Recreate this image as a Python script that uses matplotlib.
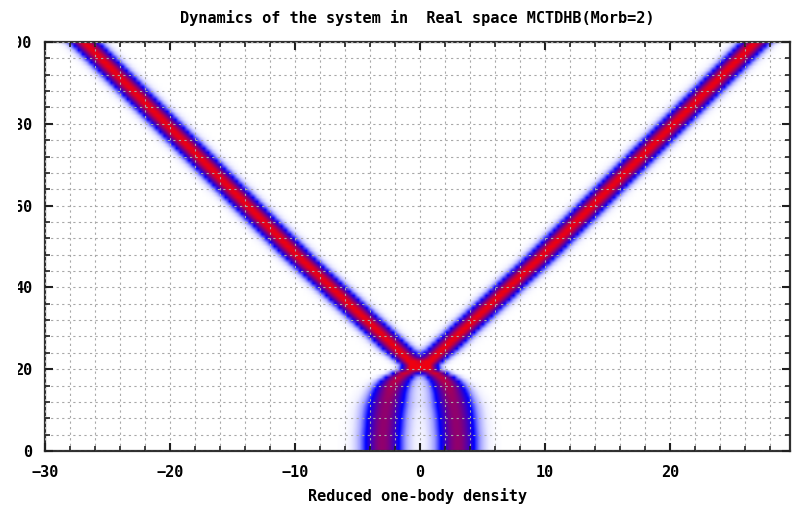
import numpy as np
import matplotlib
matplotlib.use("Agg")
import matplotlib.pyplot as plt
from matplotlib.colors import LinearSegmentedColormap
from matplotlib.patches import Rectangle
from matplotlib.ticker import MultipleLocator

# ---- data ----
# time samples (vertical axis), one per unit
time_samples = np.arange(0, 101, 1)
# centre of the right-hand density branch (the left branch is its mirror image)
branch_center = [
    3.00, 3.00, 3.00, 3.00, 2.98, 2.95, 2.92, 2.90, 2.87, 2.83,   # 0-9
    2.78, 2.72, 2.65, 2.57, 2.48, 2.37, 2.22, 2.02, 1.70, 1.22,   # 10-19
    0.60, 0.55, 0.85, 1.18, 1.52, 1.86, 2.20, 2.55, 2.90, 3.25,   # 20-29
    3.60, 3.95, 4.30, 4.65, 5.00, 5.35, 5.70, 6.05, 6.40, 6.75,   # 30-39
    7.10, 7.45, 7.80, 8.15, 8.50, 8.85, 9.20, 9.55, 9.90, 10.22,  # 40-49
    10.55, 10.88, 11.20, 11.53, 11.86, 12.18, 12.51, 12.84, 13.16, 13.49,  # 50-59
    13.82, 14.14, 14.47, 14.80, 15.12, 15.45, 15.78, 16.10, 16.43, 16.76,  # 60-69
    17.08, 17.41, 17.74, 18.06, 18.39, 18.72, 19.04, 19.37, 19.70, 20.02,  # 70-79
    20.35, 20.68, 21.00, 21.33, 21.66, 21.98, 22.31, 22.64, 22.96, 23.29,  # 80-89
    23.62, 23.94, 24.27, 24.60, 24.92, 25.25, 25.58, 25.90, 26.23, 26.56,  # 90-99
    26.90,                                                          # 100
]
# width (sigma) of each branch
branch_width = ([1.1] * 12
                + [1.07, 1.04, 1.0, 0.96, 0.91, 0.85, 0.78, 0.7, 0.64, 0.64, 0.68, 0.72, 0.76]
                + [0.78] * 76)
# peak density of each branch
branch_peak = ([0.75] * 12
               + [0.76, 0.77, 0.78, 0.8, 0.82, 0.85, 0.88, 0.92, 0.95, 0.97, 1.0, 1.0, 1.0]
               + [1.0] * 76)

x_min, x_max = -30.0, 29.6
x_grid = np.linspace(x_min, x_max, 700)

xticks_major = [-30, -20, -10, 0, 10, 20]
yticks_major = [0, 20, 40, 60, 80, 100]

title = "Dynamics of the system in  Real space MCTDHB(Morb=2)"
xlabel = "Reduced one-body density"

# ---- build density field ----
rows = []
for c, w, p in zip(branch_center, branch_width, branch_peak):
    row = p * np.exp(-(x_grid - c) ** 2 / (2 * w ** 2)) + \
          p * np.exp(-(x_grid + c) ** 2 / (2 * w ** 2))
    rows.append(row)
density = np.clip(np.array(rows), 0, 1)

cmap = LinearSegmentedColormap.from_list(
    "wbr", [(0.0, "#ffffff"), (0.05, "#eeeeff"), (0.18, "#a0a0ff"),
            (0.36, "#0000ff"), (1.0, "#ee0010")])

font = dict(family="DejaVu Sans Mono", weight="bold", size=11)

fig = plt.figure(figsize=(7.96, 5.08), dpi=100)
ax = fig.add_axes([45 / 796, (508 - 451) / 508, (790 - 45) / 796, (451 - 42) / 508])

ax.imshow(density, extent=[x_min, x_max, time_samples[0] - 0.5, time_samples[-1] + 0.5],
          origin="lower", aspect="auto", cmap=cmap, vmin=0, vmax=1,
          interpolation="bilinear", zorder=0)

ax.set_xlim(x_min, x_max)
ax.set_ylim(0, 100)
ax.set_xticks(xticks_major)
ax.set_yticks(yticks_major)
ax.xaxis.set_minor_locator(MultipleLocator(2))
ax.yaxis.set_minor_locator(MultipleLocator(4))

ax.set_axisbelow(False)
ax.grid(which="both", color="#a8a8a8", linestyle=(0, (2, 3)), linewidth=0.8)

ax.tick_params(which="both", direction="in", top=True, right=True, color="#202020")
ax.tick_params(which="major", length=6, width=1.5)
ax.tick_params(which="minor", length=3.5, width=1.2)
ax.tick_params(axis="x", which="major", pad=10)
ax.tick_params(axis="y", which="major", pad=9)

for lab in ax.get_xticklabels() + ax.get_yticklabels():
    lab.set_fontfamily(font["family"])
    lab.set_fontweight(font["weight"])
    lab.set_fontsize(font["size"])

for s in ax.spines.values():
    s.set_color("#303030")
    s.set_linewidth(1.6)

ax.set_title(title, fontdict=font, pad=14)
ax.set_xlabel(xlabel, fontdict=font, labelpad=6)

# the reference crops the leftmost part of the vertical tick labels
fig.patches.append(Rectangle((0, 0), 17.5 / 796, 1, transform=fig.transFigure,
                             facecolor="white", edgecolor="none", zorder=10))

fig.savefig("out.png", dpi=100)
